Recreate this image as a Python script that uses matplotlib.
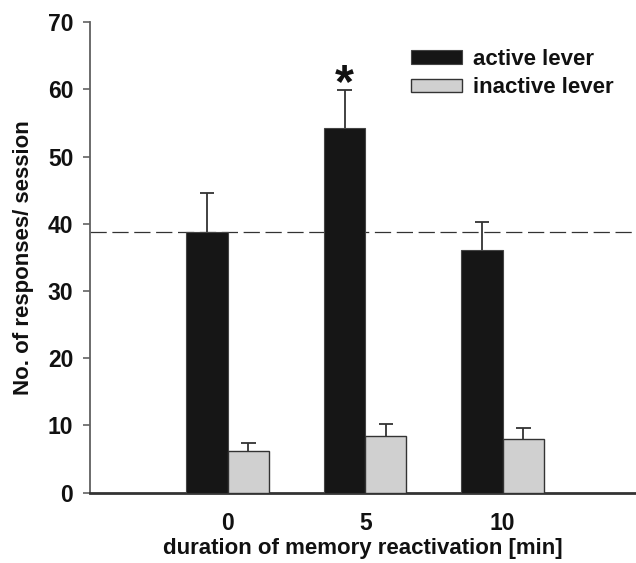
import matplotlib
matplotlib.use("Agg")
import matplotlib.pyplot as plt
import numpy as np

# values
durations = ['0', '5', '10']
active = [38.8, 54.2, 36.1]
active_err = [5.7, 5.7, 4.2]
inactive = [6.2, 8.4, 8.0]
inactive_err = [1.1, 1.8, 1.6]
baseline = 38.7
yticks = [0, 10, 20, 30, 40, 50, 60, 70]

plt.rcParams['font.family'] = ['Liberation Sans', 'DejaVu Sans']
plt.rcParams['font.weight'] = 'bold'

fig = plt.figure(figsize=(6.36, 5.63), dpi=100)
ax = fig.add_axes([0.1415, 0.1252, 0.8585, 0.8355])

x = np.arange(len(durations))
w = 0.3
cap = 0.053  # half width of the error bar caps, in data units

ax.bar(x - w / 2, active, w, color='#161616', edgecolor='#444444', linewidth=0.8,
       label='active lever', zorder=3)
ax.bar(x + w / 2, inactive, w, color='#d0d0d0', edgecolor='#333333', linewidth=1.0,
       label='inactive lever', zorder=3)

# only the upper half of the error bars is drawn
for xs, vals, errs in [(x - w / 2, active, active_err), (x + w / 2, inactive, inactive_err)]:
    tops = np.array(vals) + np.array(errs)
    ax.vlines(xs, vals, tops, color='#333333', linewidth=1.3, zorder=2)
    ax.hlines(tops, xs - cap, xs + cap, color='#333333', linewidth=1.3, zorder=2)

ax.axhline(baseline, color='#333333', linewidth=0.9, dashes=(13, 4.5), zorder=1)

# significance star above the 5 min active bar
ax.text(x[1] - w / 2, active[1] + active_err[1] - 1.0, '*', ha='center', va='baseline',
        fontsize=35, fontweight='bold', color='#111111')

ax.set_xlim(-1.0015, 2.969)
ax.set_ylim(0, 70)
ax.set_xticks(x)
ax.set_xticklabels(durations)
ax.set_yticks(yticks)

ax.tick_params(axis='x', length=0, pad=14, labelsize=16.5, colors='#111111')
ax.tick_params(axis='y', length=5, width=1.1, pad=7, labelsize=16.5,
               colors='#555555', labelcolor='#111111')

for s in ['top', 'right']:
    ax.spines[s].set_visible(False)
ax.spines['left'].set_color('#606060')
ax.spines['left'].set_linewidth(1.3)
ax.spines['bottom'].set_color('#333333')
ax.spines['bottom'].set_linewidth(2.0)

ax.set_xlabel('duration of memory reactivation [min]', fontsize=16,
              fontweight='bold', labelpad=2, color='#111111')
ax.set_ylabel('No. of responses/ session', fontsize=16, fontweight='bold', labelpad=10,
              color='#111111')

leg = ax.legend(loc='upper left', bbox_to_anchor=(0.6457, 0.913),
                bbox_transform=fig.transFigure, frameon=False, fontsize=16,
                handlelength=2.3, handleheight=0.54, handletextpad=0.5,
                labelspacing=0.33, borderpad=0, borderaxespad=0)
for t in leg.get_texts():
    t.set_color('#111111')

fig.savefig('out.png', dpi=100)
